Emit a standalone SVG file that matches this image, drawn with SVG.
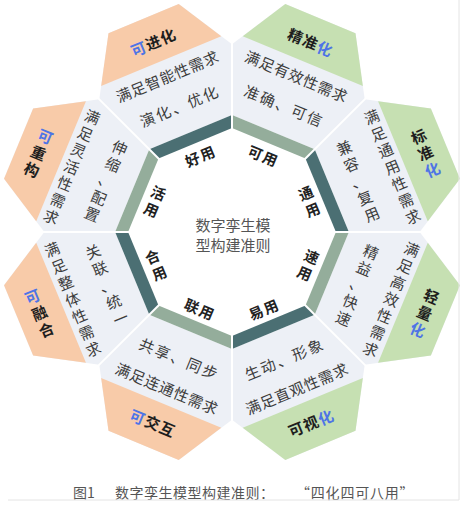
<svg xmlns="http://www.w3.org/2000/svg" xmlns:xlink="http://www.w3.org/1999/xlink" width="464" height="506" viewBox="0 0 464 506">
<style>
.gray{fill:#edf0f6}
.org{fill:#f8cba9}
.grn{fill:#c6e0b2}
.dk{fill:#4b6f73}
.lt{fill:#94ad9b}
#separators line{stroke:#fff;stroke-width:2}
text{font-family:"Noto Sans CJK SC","Noto Sans",sans-serif;text-anchor:middle;dominant-baseline:central}
.t{font-size:15px;fill:#3c3c3c;letter-spacing:0.7px}
.d{font-size:15px;fill:#3c3c3c;letter-spacing:2px}
.v{font-size:15px;fill:#3c3c3c}
.cap{font-size:15px;fill:#1e1e1e;font-weight:bold;letter-spacing:1px}
.capv{font-size:15px;fill:#1e1e1e;font-weight:bold}
.b{fill:#4e74e6}
.lab{font-size:14.5px;font-weight:bold;fill:#222;letter-spacing:1.5px}
.labv{font-size:14.5px;font-weight:bold;fill:#222}
.ctr{font-size:15px;fill:#555}
.cp{font-size:14px;fill:#555;text-anchor:start}
</style>
<defs>
<polygon id="petal" points="-44.7,-108 -71.8,-173.4 -38,-231 38,-231 71.8,-173.4 44.7,-108"/>
<polygon id="capshape" points="-65,-185 -38,-231 38,-231 65,-185"/>
<polygon id="band" points="-44.7,-108 44.7,-108 39.8,-96 -39.8,-96"/>
</defs>
<rect width="464" height="506" fill="#fff"/>

<!-- outer petals -->
<g id="p-kejinhua">
<g transform="translate(232,232) rotate(-22.5)">
<use xlink:href="#petal" class="gray"/><use xlink:href="#capshape" class="org"/>
<text class="cap" y="-206"><tspan class="b">可</tspan>进化</text>
<text class="t" y="-169">满足智能性需求</text>
<text class="d" y="-137">演化、优化</text>
</g></g>

<g id="p-jingzhunhua">
<g transform="translate(232,232) rotate(22.5)">
<use xlink:href="#petal" class="gray"/><use xlink:href="#capshape" class="grn"/>
<text class="cap" y="-206">精准<tspan class="b">化</tspan></text>
<text class="t" y="-169">满足有效性需求</text>
<text class="d" y="-137">准确、可信</text>
</g></g>

<g id="p-biaozhunhua">
<g transform="translate(232,232) rotate(67.5)">
<use xlink:href="#petal" class="gray"/><use xlink:href="#capshape" class="grn"/>
</g>
<g transform="translate(232,232) rotate(-22.5)">
<text class="capv"><tspan x="209" y="-18">标</tspan><tspan x="209" y="0">准</tspan><tspan x="209" y="18" class="b">化</tspan></text>
<text class="v"><tspan x="173" y="-54">满</tspan><tspan x="173" y="-36">足</tspan><tspan x="173" y="-18">通</tspan><tspan x="173" y="0">用</tspan><tspan x="173" y="18">性</tspan><tspan x="173" y="36">需</tspan><tspan x="173" y="54">求</tspan></text>
<text class="v"><tspan x="136" y="-36">兼</tspan><tspan x="136" y="-18">容</tspan><tspan x="136" y="0">、</tspan><tspan x="136" y="18">复</tspan><tspan x="136" y="36">用</tspan></text>
</g></g>

<g id="p-qinglianghua">
<g transform="translate(232,232) rotate(112.5)">
<use xlink:href="#petal" class="gray"/><use xlink:href="#capshape" class="grn"/>
</g>
<g transform="translate(232,232) rotate(22.5)">
<text class="capv"><tspan x="209" y="-18">轻</tspan><tspan x="209" y="0">量</tspan><tspan x="209" y="18" class="b">化</tspan></text>
<text class="v"><tspan x="173" y="-54">满</tspan><tspan x="173" y="-36">足</tspan><tspan x="173" y="-18">高</tspan><tspan x="173" y="0">效</tspan><tspan x="173" y="18">性</tspan><tspan x="173" y="36">需</tspan><tspan x="173" y="54">求</tspan></text>
<text class="v"><tspan x="136" y="-36">精</tspan><tspan x="136" y="-18">益</tspan><tspan x="136" y="0">、</tspan><tspan x="136" y="18">快</tspan><tspan x="136" y="36">速</tspan></text>
</g></g>

<g id="p-keshihua">
<g transform="translate(232,232) rotate(157.5)">
<use xlink:href="#petal" class="gray"/><use xlink:href="#capshape" class="grn"/>
</g>
<g transform="translate(232,232) rotate(-22.5)">
<text class="d" y="137">生动、形象</text>
<text class="t" y="169">满足直观性需求</text>
<text class="cap" y="206">可视<tspan class="b">化</tspan></text>
</g></g>

<g id="p-kejiaohu">
<g transform="translate(232,232) rotate(202.5)">
<use xlink:href="#petal" class="gray"/><use xlink:href="#capshape" class="org"/>
</g>
<g transform="translate(232,232) rotate(22.5)">
<text class="d" y="137">共享、同步</text>
<text class="t" y="169">满足连通性需求</text>
<text class="cap" y="206"><tspan class="b">可</tspan>交互</text>
</g></g>

<g id="p-keronghe">
<g transform="translate(232,232) rotate(247.5)">
<use xlink:href="#petal" class="gray"/><use xlink:href="#capshape" class="org"/>
</g>
<g transform="translate(232,232) rotate(-22.5)">
<text class="capv"><tspan x="-209" y="-18" class="b">可</tspan><tspan x="-209" y="0">融</tspan><tspan x="-209" y="18">合</tspan></text>
<text class="v"><tspan x="-173" y="-54">满</tspan><tspan x="-173" y="-36">足</tspan><tspan x="-173" y="-18">整</tspan><tspan x="-173" y="0">体</tspan><tspan x="-173" y="18">性</tspan><tspan x="-173" y="36">需</tspan><tspan x="-173" y="54">求</tspan></text>
<text class="v"><tspan x="-136" y="-36">关</tspan><tspan x="-136" y="-18">联</tspan><tspan x="-136" y="0">、</tspan><tspan x="-136" y="18">统</tspan><tspan x="-136" y="36">一</tspan></text>
</g></g>

<g id="p-kechonggou">
<g transform="translate(232,232) rotate(292.5)">
<use xlink:href="#petal" class="gray"/><use xlink:href="#capshape" class="org"/>
</g>
<g transform="translate(232,232) rotate(22.5)">
<text class="capv"><tspan x="-209" y="-18" class="b">可</tspan><tspan x="-209" y="0">重</tspan><tspan x="-209" y="18">构</tspan></text>
<text class="v"><tspan x="-173" y="-54">满</tspan><tspan x="-173" y="-36">足</tspan><tspan x="-173" y="-18">灵</tspan><tspan x="-173" y="0">活</tspan><tspan x="-173" y="18">性</tspan><tspan x="-173" y="36">需</tspan><tspan x="-173" y="54">求</tspan></text>
<text class="v"><tspan x="-136" y="-36">伸</tspan><tspan x="-136" y="-18">缩</tspan><tspan x="-136" y="0">、</tspan><tspan x="-136" y="18">配</tspan><tspan x="-136" y="36">置</tspan></text>
</g></g>

<!-- inner band segments -->
<g id="u-haoyong"><g transform="translate(232,232) rotate(-22.5)"><use xlink:href="#band" class="dk"/><text class="lab" y="-83">好用</text></g></g>
<g id="u-keyong"><g transform="translate(232,232) rotate(22.5)"><use xlink:href="#band" class="lt"/><text class="lab" y="-83">可用</text></g></g>
<g id="u-tongyong"><g transform="translate(232,232) rotate(67.5)"><use xlink:href="#band" class="dk"/></g>
<g transform="translate(232,232) rotate(-22.5)"><text class="labv"><tspan x="83" y="-9">通</tspan><tspan x="83" y="9">用</tspan></text></g></g>
<g id="u-suyong"><g transform="translate(232,232) rotate(112.5)"><use xlink:href="#band" class="lt"/></g>
<g transform="translate(232,232) rotate(22.5)"><text class="labv"><tspan x="83" y="-9">速</tspan><tspan x="83" y="9">用</tspan></text></g></g>
<g id="u-yiyong"><g transform="translate(232,232) rotate(157.5)"><use xlink:href="#band" class="dk"/></g>
<g transform="translate(232,232) rotate(-22.5)"><text class="lab" y="83">易用</text></g></g>
<g id="u-lianyong"><g transform="translate(232,232) rotate(202.5)"><use xlink:href="#band" class="lt"/></g>
<g transform="translate(232,232) rotate(22.5)"><text class="lab" y="83">联用</text></g></g>
<g id="u-heyong"><g transform="translate(232,232) rotate(247.5)"><use xlink:href="#band" class="dk"/></g>
<g transform="translate(232,232) rotate(-22.5)"><text class="labv"><tspan x="-83" y="-9">合</tspan><tspan x="-83" y="9">用</tspan></text></g></g>
<g id="u-huoyong"><g transform="translate(232,232) rotate(292.5)"><use xlink:href="#band" class="lt"/></g>
<g transform="translate(232,232) rotate(22.5)"><text class="labv"><tspan x="-83" y="-9">活</tspan><tspan x="-83" y="9">用</tspan></text></g></g>

<!-- separators -->
<g id="separators" transform="translate(232,232)">
<line x1="0" y1="-94" x2="0" y2="-195"/>
<line x1="0" y1="-94" x2="0" y2="-195" transform="rotate(45)"/>
<line x1="0" y1="-94" x2="0" y2="-195" transform="rotate(90)"/>
<line x1="0" y1="-94" x2="0" y2="-195" transform="rotate(135)"/>
<line x1="0" y1="-94" x2="0" y2="-195" transform="rotate(180)"/>
<line x1="0" y1="-94" x2="0" y2="-195" transform="rotate(225)"/>
<line x1="0" y1="-94" x2="0" y2="-195" transform="rotate(270)"/>
<line x1="0" y1="-94" x2="0" y2="-195" transform="rotate(315)"/>
</g>

<g id="center">
<text class="ctr" x="233" y="224">数字孪生模</text>
<text class="ctr" x="233" y="244">型构建准则</text>
</g>

<g id="caption">
<text class="cp" x="73" y="492">图1</text>
<text class="cp" x="115" y="492" letter-spacing="0.5">数字孪生模型构建准则：</text>
<text class="cp" x="296" y="492" letter-spacing="0.8">“四化四可八用”</text>
</g>
<line x1="459" y1="0" x2="459" y2="500" stroke="#e4e4e4" stroke-width="1"/>
<line x1="8" y1="500" x2="459" y2="500" stroke="#e4e4e4" stroke-width="1"/>
</svg>
